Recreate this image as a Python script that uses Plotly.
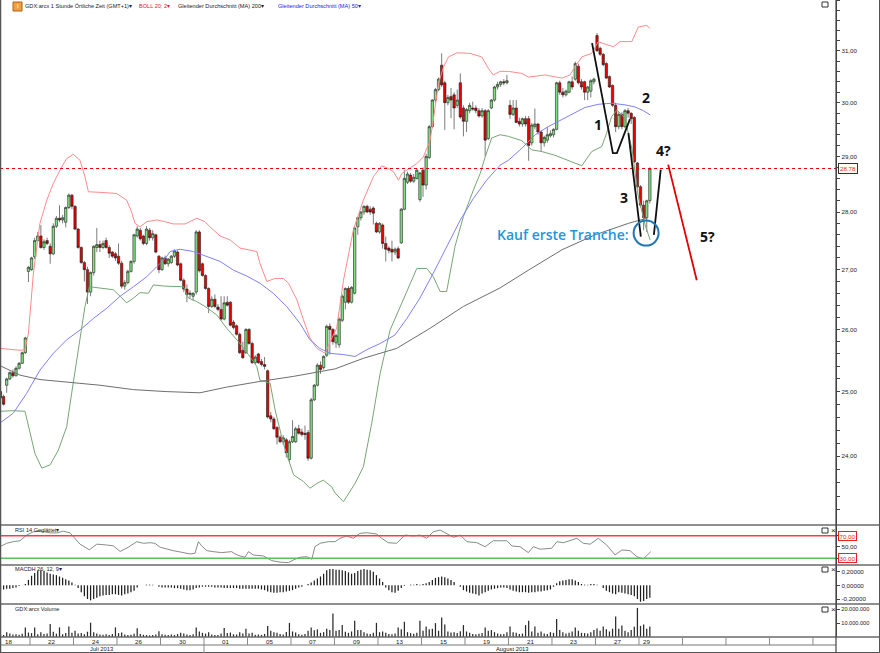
import math
import plotly.graph_objects as go

W, H = 880, 653

# ---------------- DATA (hourly bars, index 0 = first visible bar) ----------------
opens = [25.00,24.92,25.10,25.20,25.30,25.25,25.37,25.45,25.62,26.97,27.00,27.22,27.50,27.58,27.38,27.50,27.40,27.27,27.75,27.89,
         27.86,27.82,28.08,28.30,28.10,27.70,27.38,27.12,27.00,26.62,26.95,27.38,27.43,27.38,27.50,27.38,27.30,27.27,27.23,27.11,
         26.72,26.78,26.97,27.14,27.58,27.68,27.58,27.45,27.68,27.55,27.60,27.23,27.00,27.20,27.10,27.12,27.23,27.30,27.10,26.82,
         26.67,26.58,26.55,26.62,27.65,27.10,26.90,26.68,26.38,26.50,26.37,26.33,26.17,26.45,26.45,26.12,26.06,25.92,25.66,25.62,
         26.00,25.77,25.46,25.60,25.48,25.43,25.33,24.62,24.57,24.44,24.29,24.22,24.25,23.95,24.22,24.22,24.42,24.37,24.35,24.36,
         23.97,24.87,25.10,25.42,25.38,25.58,26.05,26.00,25.78,25.75,26.15,26.45,26.68,26.45,26.60,27.74,27.90,28.00,28.10,28.05,
         28.07,27.80,27.65,27.77,27.45,27.37,27.35,27.30,27.36,27.46,28.05,28.53,28.66,28.55,28.60,28.22,28.75,28.48,28.98,29.55,
         30.05,30.25,30.72,30.38,30.00,30.12,30.15,29.95,30.38,29.90,29.65,29.85,29.90,29.90,29.85,29.75,29.85,29.33,29.90,30.05,
         30.30,30.35,30.40,30.38,29.95,29.78,29.90,29.65,29.60,29.70,29.70,29.25,29.55,29.60,29.45,29.25,29.30,29.38,29.40,29.50,
         30.38,30.20,30.15,30.20,30.40,30.45,30.70,30.40,30.40,30.20,30.22,30.40,31.30,31.05,30.93,30.75,30.50,30.33,29.95,29.55,
         29.78,29.55,29.85,29.80,29.72,28.88,28.45,28.12,27.90,28.20]
highs = [25.03,24.95,25.22,25.32,25.35,25.40,25.47,25.64,25.88,27.06,27.22,27.55,27.65,27.77,27.52,27.55,27.45,27.80,27.93,28.12,
         27.95,28.10,28.33,28.32,28.12,27.72,27.40,27.15,27.05,26.97,27.42,27.72,27.50,27.50,27.55,27.42,27.32,27.30,27.45,27.15,
         26.82,27.00,27.16,27.62,27.75,27.72,27.60,27.75,27.72,27.68,27.62,27.25,27.22,27.24,27.20,27.25,27.35,27.33,27.12,26.85,
         26.75,26.65,26.62,27.68,27.68,27.12,26.92,26.70,26.55,26.58,26.42,26.55,26.55,26.55,26.47,26.15,26.08,25.95,25.80,26.02,
         26.02,25.80,25.58,25.62,25.52,25.55,25.35,24.68,24.60,24.46,24.32,24.32,24.28,24.25,24.55,24.45,24.48,24.42,24.47,24.40,
         24.90,25.12,25.45,25.48,25.58,26.08,26.10,26.02,25.93,26.20,26.58,26.70,26.72,26.72,27.75,27.92,28.02,28.12,28.13,28.10,
         28.10,27.83,27.82,27.80,27.57,27.40,27.50,27.38,27.40,28.07,28.75,28.72,28.70,28.68,28.78,28.72,28.80,29.05,29.58,30.07,
         30.28,30.48,30.95,30.42,30.15,30.28,30.20,30.25,30.56,29.95,29.90,30.00,30.02,29.95,29.90,29.90,29.88,29.88,30.07,30.32,
         30.40,30.42,30.45,30.53,30.05,30.05,30.05,29.72,29.72,29.75,29.75,29.62,29.89,29.62,29.48,29.38,29.55,29.48,29.52,30.40,
         30.42,30.28,30.25,30.42,30.50,30.79,30.75,30.45,30.42,30.32,30.45,30.48,31.35,31.08,30.96,30.78,30.52,30.35,30.00,29.82,
         29.82,29.88,29.90,29.82,29.75,28.90,28.48,28.20,28.22,28.80]
lows = [24.88,24.78,24.98,25.18,25.22,25.24,25.35,25.44,25.60,26.79,26.98,27.18,27.48,27.36,27.34,27.42,27.10,27.25,27.72,27.82,
        27.80,27.73,28.05,28.05,27.68,27.36,27.10,26.80,26.42,26.55,26.90,27.30,27.30,27.35,27.36,27.20,27.20,27.15,27.08,26.68,
        26.66,26.75,26.95,27.10,27.55,27.50,27.42,27.42,27.50,27.50,27.28,26.94,26.98,27.08,27.05,27.10,27.20,27.06,26.80,26.62,
        26.45,26.52,26.48,26.58,26.95,26.88,26.66,26.27,26.35,26.35,26.30,26.15,26.15,26.38,26.05,26.00,25.90,25.60,25.52,25.60,
        25.75,25.44,25.44,25.44,25.40,25.35,24.58,24.52,24.40,24.18,24.20,24.18,23.98,23.90,24.20,24.20,24.33,24.30,24.25,23.93,
        23.95,24.85,25.08,25.28,25.35,25.55,25.59,25.75,25.70,25.70,26.12,26.33,26.42,26.43,26.58,27.60,27.85,27.95,27.98,27.95,
        27.78,27.63,27.62,27.36,27.14,27.28,27.14,27.25,27.18,27.44,28.03,28.50,28.52,28.52,28.58,28.18,28.27,28.40,28.95,29.52,
        30.00,30.22,30.30,29.49,29.95,29.71,29.50,29.90,29.70,29.37,29.45,29.80,29.85,29.80,29.72,29.72,29.00,29.30,29.88,30.02,
        30.25,30.30,30.33,30.35,29.70,29.75,29.62,29.55,29.55,29.55,28.92,29.20,29.50,29.40,29.09,29.18,29.25,29.35,29.35,29.48,
        30.15,30.10,30.12,30.18,30.25,30.42,30.35,30.25,30.05,30.05,30.10,30.35,30.98,30.90,30.70,30.45,30.28,29.92,29.45,29.50,
        29.50,29.52,29.72,29.60,28.88,28.42,28.08,27.68,27.65,28.15]
closes = [24.90,24.80,25.20,25.30,25.25,25.37,25.45,25.62,25.86,27.04,27.20,27.50,27.58,27.38,27.48,27.45,27.27,27.75,27.89,27.86,
          27.90,28.08,28.30,28.10,27.70,27.38,27.12,27.00,26.62,26.95,27.40,27.43,27.38,27.45,27.38,27.28,27.23,27.20,27.11,26.72,
          26.78,26.97,27.14,27.60,27.70,27.53,27.45,27.70,27.55,27.62,27.30,27.00,27.20,27.10,27.18,27.23,27.32,27.08,26.82,26.67,
          26.58,26.60,26.60,27.65,26.98,26.90,26.68,26.38,26.50,26.38,26.33,26.17,26.44,26.40,26.07,26.03,25.92,25.62,25.54,26.00,
          25.77,25.46,25.55,25.46,25.43,25.40,24.60,24.57,24.42,24.29,24.22,24.28,24.05,24.22,24.30,24.42,24.35,24.33,24.33,23.97,
          24.87,25.10,25.42,25.35,25.56,26.05,26.00,25.80,25.90,26.17,26.55,26.68,26.45,26.70,27.72,27.90,28.00,28.10,28.00,28.00,
          27.98,27.65,27.80,27.45,27.35,27.33,27.30,27.35,27.20,28.05,28.60,28.68,28.55,28.62,28.75,28.70,28.48,29.00,29.55,30.05,
          30.25,30.45,30.34,30.00,30.10,30.05,29.90,30.05,29.73,29.65,29.87,29.95,29.88,29.85,29.75,29.85,29.30,29.85,30.05,30.30,
          30.35,30.40,30.38,30.42,29.78,29.90,29.63,29.60,29.70,29.60,29.20,29.58,29.60,29.45,29.25,29.35,29.40,29.42,29.50,30.38,
          30.20,30.15,30.22,30.40,30.30,30.75,30.38,30.30,30.20,30.30,30.42,30.45,31.00,30.93,30.73,30.47,30.30,29.95,29.55,29.78,
          29.55,29.85,29.80,29.70,28.90,28.45,28.12,27.90,28.20,28.78]

# indicator lines: (bar index, price)
boll_upper = [(-0.1,25.69),(6.3,25.66),(7.9,25.67),(9.0,25.94),(10.6,26.94),(12.7,27.80),(14.9,28.21),(17.0,28.51),(19.7,28.81),
              (21.3,28.96),(23.4,29.04),(25.6,28.93),(27.2,28.63),(28.3,28.36),(32.0,28.35),(37.4,28.33),(40.6,28.21),(42.2,28.00),
              (43.3,27.80),(44.9,27.74),(47.1,27.83),(50.3,27.86),(53.0,27.83),(55.6,27.79),(59.4,27.79),(63.2,27.89),(65.8,27.83),
              (67.4,27.74),(70.7,27.58),(73.9,27.51),(77.1,27.37),(82.5,27.31),(83.5,27.11),(85.7,26.80),(88.4,26.85),(91.0,26.85),
              (92.7,26.77),(95.4,26.49),(97.5,26.16),(99.6,25.86),(101.8,25.69),(104.5,25.61),(106.1,25.80),(108.2,26.02),
              (110.4,26.82),(113.6,27.69),(116.8,28.21),(120.0,28.63),(122.7,28.83),(124.8,28.78),(126.5,28.72),(128.1,28.57),
              (129.2,28.69),(131.8,28.78),(134.0,28.87),(136.1,28.99),(138.3,29.30),(139.3,29.68),(141.0,30.37),(142.6,30.69),
              (144.2,30.88),(146.9,30.96),(151.1,30.95),(154.9,30.88),(157.0,30.66),(158.6,30.53),(160.8,30.60),(163.5,30.60),
              (167.8,30.56),(169.9,30.49),(172.1,30.51),(175.3,30.53),(180.7,30.47),(183.3,30.53),(184.9,30.69),(187.1,30.88),
              (190.3,30.95),(192.4,31.18),(194.6,31.13),(197.3,31.08),(199.4,31.18),(203.2,31.18),(205.3,31.47),(208.0,31.50),
              (209.1,31.44)]
boll_lower = [(-0.1,24.69),(4.1,24.70),(7.9,24.69),(9.5,24.35),(11.1,24.04),(13.3,23.82),(16.0,23.87),(18.6,24.09),(21.3,24.45),
              (22.9,24.97),(25.1,25.72),(27.2,26.38),(28.6,26.71),(32.0,26.69),(36.3,26.66),(38.5,26.55),(40.6,26.44),(42.8,26.52),
              (44.9,26.61),(47.6,26.60),(49.2,26.74),(53.0,26.72),(55.6,26.71),(58.9,26.71),(60.5,26.52),(63.2,26.46),(65.8,26.38),
              (69.6,26.24),(72.8,26.02),(76.6,25.80),(79.8,25.59),(82.5,25.40),(83.5,25.18),(86.8,25.13),(88.4,24.71),(91.0,24.20),
              (94.3,23.72),(97.5,23.62),(99.6,23.52),(101.8,23.59),(103.9,23.64),(106.6,23.54),(107.7,23.45),(110.4,23.32),
              (114.1,23.59),(116.8,23.84),(119.5,24.51),(122.2,25.29),(125.4,25.99),(128.6,26.38),(131.8,26.77),(134.0,27.02),
              (137.2,27.02),(139.3,26.88),(141.5,26.63),(143.6,26.63),(146.3,27.40),(149.0,27.92),(152.2,28.39),(154.4,28.69),
              (156.0,28.99),(158.1,29.34),(160.8,29.40),(163.5,29.37),(167.8,29.29),(171.0,29.12),(174.2,29.09),(178.5,29.02),
              (183.9,28.90),(187.1,28.83),(190.3,29.09),(193.5,29.18),(195.1,29.43),(196.7,29.74),(198.4,29.86),(201.0,29.71),
              (203.3,29.12),(205.2,28.30),(207.5,27.77),(209.1,27.51)]
ma50 = [(-0.1,24.51),(4.1,24.66),(8.4,24.97),(12.7,25.34),(17.0,25.61),(21.3,25.83),(25.6,25.99),(29.9,26.18),(34.2,26.35),
        (38.5,26.55),(42.8,26.71),(47.1,26.88),(50.3,27.05),(53.0,27.19),(54.6,27.31),(57.8,27.35),(62.1,27.31),(66.4,27.23),
        (70.7,27.14),(75.0,26.99),(79.3,26.89),(83.5,26.77),(87.8,26.60),(92.1,26.38),(96.4,26.10),(99.6,25.83),(102.8,25.69),
        (106.1,25.61),(110.4,25.59),(114.1,25.56),(117.9,25.67),(122.2,25.77),(127.0,25.91),(130.8,26.18),(135.0,26.52),
        (139.3,26.94),(143.6,27.40),(148.0,27.86),(152.2,28.24),(156.5,28.57),(160.8,28.84),(163.5,28.93),(167.8,29.15),
        (172.1,29.40),(176.3,29.55),(180.6,29.68),(184.9,29.80),(188.1,29.91),(192.4,29.97),(196.7,29.99),(201.0,29.96),
        (204.2,29.92),(206.9,29.85),(209.1,29.77)]
ma200 = [(-0.1,25.41),(6.3,25.26),(12.7,25.19),(21.3,25.15),(32.0,25.10),(42.8,25.03),(53.0,25.00),(64.2,24.98),(72.8,25.07),
         (83.5,25.16),(94.3,25.24),(107.7,25.36),(116.8,25.53),(127.5,25.69),(138.3,26.02),(149.0,26.38),(160.8,26.69),
         (169.9,26.99),(180.7,27.34),(191.4,27.60),(202.1,27.80),(208.0,27.89)]
last_price = 28.78

rsi = [(-0.2,50.5),(2.0,56.5),(4.1,59.4),(6.3,61),(8.4,71),(10.6,77),(13.3,78),(16.0,75),(18.1,75),(20.2,78),(22.4,75),(24.0,65),
       (25.6,55),(28.6,45),(31.0,55),(34.2,53.5),(36.3,52),(38.5,42),(41.1,49.5),(43.9,59.4),(46.0,56.5),(48.1,57.6),(49.7,56.5),
       (51.4,49.5),(53.5,46),(55.6,43.5),(58.3,40.6),(61.0,37.6),(62.6,38.8),(63.7,59.4),(64.8,51.8),(66.4,43.5),(68.5,41.7),
       (71.2,40),(74.4,41.7),(75.5,37.6),(77.1,34),(78.7,31.8),(79.8,41.7),(81.4,35.8),(84.6,34),(86.2,30),(87.3,25.8),(90.0,23),
       (92.7,22.2),(94.3,27),(96.4,31.8),(98.6,32.8),(100.2,28.2),(101.2,50.5),(102.9,56.5),(105.5,59.4),(107.7,59.4),(109.3,65.4),
       (111.4,69.5),(113.6,65.4),(115.7,74.2),(117.9,75.3),(121.1,73),(122.7,65.4),(124.8,57.6),(127.5,56.5),(128.6,62.4),
       (130.2,71.2),(132.9,69.5),(135.0,71.2),(137.2,65.4),(139.3,77),(141.5,80),(143.6,73),(145.8,67.2),(148.0,71.2),(150.1,59.4),
       (153.3,57.6),(156.0,50.5),(158.6,61),(163.0,61),(164.6,51.8),(167.2,50.5),(169.9,40),(171.5,50.5),(173.7,46),(177.4,47.7),
       (179.1,59.4),(181.2,57.6),(183.9,62.4),(185.5,65.4),(187.6,56.5),(189.8,55),(192.4,65.4),(195.1,53.5),(197.8,35.8),
       (200.0,44.7),(202.6,43.5),(204.8,32.8),(206.9,28.8),(209.3,41.7)]
rsi_levels = [70, 30]

macdh = [-0.06,-0.06,-0.05,-0.05,-0.04,-0.03,-0.01,0.00,0.02,0.08,0.14,0.18,0.21,0.22,0.21,0.19,0.17,0.16,0.15,0.13,
         0.11,0.09,0.07,0.04,0.01,-0.04,-0.10,-0.16,-0.20,-0.22,-0.20,-0.18,-0.16,-0.15,-0.14,-0.14,-0.13,-0.13,-0.14,-0.15,
         -0.13,-0.12,-0.10,-0.08,-0.03,0.00,0.00,0.01,0.01,0.01,0.00,-0.02,-0.03,-0.03,-0.03,-0.03,-0.04,-0.04,-0.05,-0.06,
         -0.07,-0.07,-0.06,-0.04,-0.03,-0.02,-0.02,-0.02,-0.02,-0.03,-0.03,-0.03,-0.04,-0.04,-0.04,-0.04,-0.04,-0.05,-0.05,-0.05,
         -0.05,-0.05,-0.05,-0.05,-0.06,-0.07,-0.09,-0.10,-0.11,-0.11,-0.10,-0.10,-0.09,-0.08,-0.07,-0.05,-0.03,-0.02,0.00,0.02,
         0.04,0.07,0.10,0.13,0.17,0.22,0.24,0.24,0.23,0.23,0.22,0.21,0.19,0.17,0.18,0.21,0.23,0.24,0.23,0.22,
         0.20,0.15,0.10,0.05,-0.03,-0.07,-0.10,-0.11,-0.08,-0.04,-0.01,0.00,0.01,0.01,0.02,0.01,0.02,0.03,0.05,0.08,
         0.11,0.12,0.13,0.12,0.10,0.08,0.05,0.00,-0.02,-0.07,-0.09,-0.11,-0.12,-0.13,-0.15,-0.12,-0.10,-0.08,-0.06,-0.05,
         -0.04,-0.03,-0.03,-0.04,-0.06,-0.08,-0.09,-0.10,-0.10,-0.10,-0.11,-0.10,-0.10,-0.09,-0.09,-0.08,-0.07,-0.06,-0.02,0.03,
         0.06,0.07,0.08,0.09,0.09,0.07,0.05,0.02,0.01,0.01,0.02,0.02,0.01,0.00,-0.04,-0.08,-0.10,-0.12,-0.13,-0.10,
         -0.11,-0.12,-0.13,-0.14,-0.16,-0.20,-0.24,-0.23,-0.20,-0.18]

volume_mio = [2.0,1.5,3.5,
              2.5,1.8,2.0,1.6,2.4,6.9,3.2, 2.8,6.9,2.0,3.5,2.2,2.6,9.3, 3.8,2.4,6.9,2.0,2.8,7.6,3.0,
              4.5,2.5,2.8,2.0,3.8,10.3,3.5, 2.6,1.8,1.6,2.0,1.5,2.2,6.9, 2.8,3.2,1.8,1.5,1.6,2.4,6.4,
              2.2,1.6,1.4,1.2,1.5,1.8,4.2, 2.0,1.6,1.4,1.8,1.5,2.2,3.0, 2.5,1.8,1.5,2.0,6.9,4.0,3.0,
              2.4,3.5,1.8,1.5,1.4,2.5,6.5, 2.8,3.2,2.0,1.8,3.4,2.6,6.0, 2.5,3.0,1.6,1.8,1.5,2.2,8.0,
              4.5,3.5,3.0,2.2,1.8,3.6,10.2, 4.0,3.2,2.0,1.6,2.2,4.5,6.9, 4.8,5.5,3.0,3.5,6.0,5.0,16.9,
              4.5,5.0,8.6,3.8,3.0,4.0,11.7, 5.0,5.0,3.5,2.5,2.2,3.0,10.2, 3.5,4.0,3.0,2.2,2.0,2.5,6.9,
              5.5,11.0,3.5,2.8,2.4,3.0,11.7, 4.5,7.6,5.5,6.0,10.0,4.5,14.0, 9.0,4.0,3.2,3.5,2.8,4.2,8.6,
              4.0,3.0,2.2,2.0,2.4,2.8,6.9, 4.5,5.0,3.5,2.5,2.0,2.2,3.5, 7.6,3.5,3.0,2.2,2.5,8.6,11.7,
              4.0,7.6,3.0,4.0,2.5,2.2,3.5, 3.0,12.9,5.0,3.5,2.5,3.0,4.0, 6.9,4.5,3.0,2.8,2.5,3.5,5.0,
              6.2,4.5,7.6,5.5,4.0,6.0,14.7, 6.0,8.3,4.5,3.5,5.0,7.4,21.0,
              8.0,9.0,6.0,7.6]

day_labels = ["18", "22", "24", "26", "30", "01", "05", "07", "09", "13", "15", "19", "21", "23", "27", "29"]
month_labels = ["Juli 2013", "August 2013"]

# hand-drawn Elliott-wave marks on the chart: (bar index, price)
wave_1 = [(190.4, 31.15), (197.1, 29.06), (198.4, 29.06), (202.6, 29.69)]
wave_3 = [(202.1, 29.43), (206.1, 27.57)]
wave_4 = [(210.3, 27.60), (212.5, 28.76)]
wave_5 = [(214.9, 28.85), (224.1, 26.82)]
buy_point = (207.8, 27.63)

# ---------------- LAYOUT HELPERS ----------------
PX0, PXB = 0.48, 3.107          # pixel centre of bar 0, pixels per bar
XR = [(0 - PX0) / PXB, (836 - PX0) / PXB]
FONT = "Liberation Sans"


def px(x):
    return x / W


def py(y):
    return 1 - y / H


def xy(pairs):
    return [p[0] for p in pairs], [p[1] for p in pairs]


fig = go.Figure()
N = len(closes)
idx = list(range(N))

fig.add_trace(go.Candlestick(
    x=idx, open=opens, high=highs, low=lows, close=closes,
    increasing=dict(fillcolor="#7ee07e", line=dict(color="#222222", width=0.6)),
    decreasing=dict(fillcolor="#e80000", line=dict(color="#222222", width=0.6)),
    whiskerwidth=0, showlegend=False, hoverinfo="skip", xaxis="x", yaxis="y"))

for pairs, col, w in [(boll_upper, "#ff8a8a", 1), (boll_lower, "#76a676", 1),
                      (ma50, "#8080ff", 1), (ma200, "#6e6e6e", 1)]:
    xs, ys = xy(pairs)
    fig.add_trace(go.Scatter(x=xs, y=ys, mode="lines", line=dict(color=col, width=w),
                             showlegend=False, hoverinfo="skip", xaxis="x", yaxis="y"))

fig.add_trace(go.Scatter(x=XR, y=[last_price, last_price], mode="lines",
                         line=dict(color="#ee0000", width=1.2, dash="dot"),
                         showlegend=False, hoverinfo="skip", xaxis="x", yaxis="y"))

for pairs, col in [(wave_1, "#111111"), (wave_3, "#111111"), (wave_4, "#111111"), (wave_5, "#e00000")]:
    xs, ys = xy(pairs)
    fig.add_trace(go.Scatter(x=xs, y=ys, mode="lines", line=dict(color=col, width=1.8),
                             showlegend=False, hoverinfo="skip", xaxis="x", yaxis="y"))

fig.add_trace(go.Scatter(x=[buy_point[0]], y=[buy_point[1]], mode="markers",
                         marker=dict(symbol="circle-open", size=25, line=dict(color="#1e96dc", width=2)),
                         showlegend=False, hoverinfo="skip", xaxis="x", yaxis="y"))

# RSI
rx, ry = xy(rsi)
fig.add_trace(go.Scatter(x=rx, y=ry, mode="lines", line=dict(color="#8a8a8a", width=1),
                         showlegend=False, hoverinfo="skip", xaxis="x", yaxis="y2"))
for lvl, col in zip(rsi_levels, ["#ff3b3b", "#5cc05c"]):
    fig.add_trace(go.Scatter(x=XR, y=[lvl, lvl], mode="lines", line=dict(color=col, width=1.6),
                             showlegend=False, hoverinfo="skip", xaxis="x", yaxis="y2"))

# MACD histogram
fig.add_trace(go.Bar(x=list(range(len(macdh))), y=macdh, width=0.4, marker=dict(color="#1e1e1e", line=dict(width=0)),
                     showlegend=False, hoverinfo="skip", xaxis="x", yaxis="y3"))
# Volume
fig.add_trace(go.Bar(x=list(range(len(volume_mio))), y=volume_mio, width=0.4,
                     marker=dict(color="#2a2a2a", line=dict(width=0)),
                     showlegend=False, hoverinfo="skip", xaxis="x", yaxis="y4"))

# ---------------- AXES ----------------
tick_font = dict(family=FONT, size=6.2, color="#222")
price_ticks = [round(23.2 + 0.2 * i, 1) for i in range(45)]
price_text = [("%d,00" % v) if abs(v - round(v)) < 1e-6 else "" for v in price_ticks]

common_y = dict(side="right", anchor="x", showgrid=False, zeroline=False, ticks="outside", ticklen=3,
                tickwidth=1, tickcolor="#444", showline=True, linecolor="#444", linewidth=1.2,
                tickfont=tick_font, fixedrange=True, automargin=False)

fig.update_layout(
    template="none",
    width=W, height=H, margin=dict(l=0, r=0, t=0, b=0, pad=0, autoexpand=False),
    paper_bgcolor="white", plot_bgcolor="white", barmode="overlay",
    boxgap=0.15, boxgroupgap=0.1,
    hovermode=False, dragmode=False, showlegend=False,
    xaxis=dict(domain=[0, 836 / W], range=XR, showticklabels=False, showgrid=False, zeroline=False,
               showline=False, ticks="", anchor="y4", rangeslider=dict(visible=False), fixedrange=True,
               automargin=False),
    yaxis=dict(domain=[py(525), 1], type="log", range=[math.log10(22.98), math.log10(32.01)],
               tickvals=price_ticks, ticktext=price_text, **common_y),
    yaxis2=dict(domain=[py(565), py(525)], range=[18, 89], tickvals=[30, 50, 70], ticktext=["", "50,00", ""],
                **common_y),
    yaxis3=dict(domain=[py(604), py(565)], range=[-0.273, 0.298], tickvals=[-0.2, 0, 0.2],
                ticktext=["-0,20000", "0,00000", "0,20000"], **common_y),
    yaxis4=dict(domain=[py(637), py(604)], range=[0, 23.8], tickvals=[10, 20],
                ticktext=["10.000.000", "20.000.000"], **common_y),
)
fig.update_layout(yaxis4_tickfont=dict(family=FONT, size=5.6, color="#222"))

# ---------------- FRAME, SEPARATORS, BOTTOM AXIS ----------------
shapes = []


def pline(x0, y0, x1, y1, color="#555", width=1):
    shapes.append(dict(type="line", xref="paper", yref="paper", x0=px(x0), y0=py(y0), x1=px(x1), y1=py(y1),
                       line=dict(color=color, width=width), layer="above"))


for yy in (525, 565, 604, 637):
    pline(0, yy, W, yy, "#6a6a6a", 1.6)
pline(0, 645, 836, 645, "#777", 1)
pline(0, 652.5, W, 652.5, "#555", 1)
pline(0.5, 0, 0.5, 653, "#555", 1.5)
pline(879.5, 0, 879.5, 653, "#555", 1)
pline(836, 0, 836, 653, "#444", 1.2)

# day-cell dividers (every two trading days = 14 hourly bars)
d = 9.5
while d < XR[1]:
    shapes.append(dict(type="line", xref="x", yref="paper", x0=d, x1=d, y0=py(645), y1=py(637),
                       line=dict(color="#8a8a8a", width=1)))
    d += 14
shapes.append(dict(type="line", xref="x", yref="paper", x0=65.5, x1=65.5, y0=py(653), y1=py(645),
                   line=dict(color="#8a8a8a", width=1)))

# small window icons
for yy in (2, 528, 567, 607):
    shapes.append(dict(type="rect", xref="paper", yref="paper", x0=px(822), x1=px(828), y0=py(yy + 5), y1=py(yy),
                       line=dict(color="#333", width=1), fillcolor="white"))
# logo icon
shapes.append(dict(type="rect", xref="paper", yref="paper", x0=px(13), x1=px(22), y0=py(11), y1=py(2),
                   line=dict(color="#b06010", width=1), fillcolor="#f0a040"))

ann = []


def text(x, y, s, size=6.2, color="#222", anchor="left", family=FONT, weight=None, **kw):
    f = dict(family=family, size=size, color=color)
    if weight:
        f["weight"] = weight
    ann.append(dict(x=px(x), y=py(y), xref="paper", yref="paper", text=s, showarrow=False,
                    xanchor=anchor, yanchor="middle", font=f, **kw))


# legend line
text(23, 6.5, "GDX:arcx 1 Stunde Örtliche Zeit (GMT+1)▾", size=5.6)
text(137, 6.5, "BOLL 20; 2▾", size=5.6, color="#e82020")
text(176, 6.5, "Gleitender Durchschnitt (MA) 200▾", size=5.6)
text(276, 6.5, "Gleitender Durchschnitt (MA) 50▾", size=5.6, color="#2020ee")
text(17.5, 6.5, "I", size=6, color="white", anchor="center")

# panel titles
text(13, 530, "RSI 14 Geglättet▾", size=5.6)
text(13, 569, "MACDH 26, 12, 9▾", size=5.6)
text(13, 609, "GDX:arcx Volume", size=5.6)
for yy in (530, 569, 609):
    text(833, yy, "×", size=8, color="#222", anchor="center")

# boxed value labels on right axis
text(838, 168.5, "%.2f" % last_price, size=6.2, color="#ee2222", bgcolor="#fffff0", bordercolor="#333",
     borderwidth=1, borderpad=1)
text(838, 535.7, "70,00", size=6.2, color="#ee2222", bgcolor="white", bordercolor="#ee2222", borderwidth=1,
     borderpad=0.5)
text(838, 558.3, "30,00", size=6.2, color="#ee2222", bgcolor="white", bordercolor="#ee2222", borderwidth=1,
     borderpad=0.5)

# date labels
for c, lab in enumerate(day_labels):
    xc = 2.5 + 14 * c if c < len(day_labels) - 1 else 207.8
    ann.append(dict(x=xc, y=py(641), xref="x", yref="paper", text=lab, showarrow=False, xanchor="center",
                    yanchor="middle", font=dict(family=FONT, size=6.2, color="#222")))
for xc, lab in zip([32.6, 164.9], month_labels):
    ann.append(dict(x=xc, y=py(648.8), xref="x", yref="paper", text=lab, showarrow=False, xanchor="center",
                    yanchor="middle", font=dict(family=FONT, size=5.8, color="#222")))

# hand-written chart notes
text(495, 234, "Kauf erste Tranche:", size=14, color="#1e96dc", family="Open Sans", weight=600)
for s, x, y in [("1", 598, 125), ("2", 646, 98), ("3", 624, 198), ("4?", 663, 150), ("5?", 707, 236)]:
    text(x, y, s, size=14, color="#111", anchor="center", family="Open Sans", weight=700)

fig.update_layout(shapes=shapes, annotations=ann)
fig.write_html("out.html", config={"displayModeBar": False, "staticPlot": True},
               post_script="document.body.style.margin='0px';document.body.style.padding='0px';")
